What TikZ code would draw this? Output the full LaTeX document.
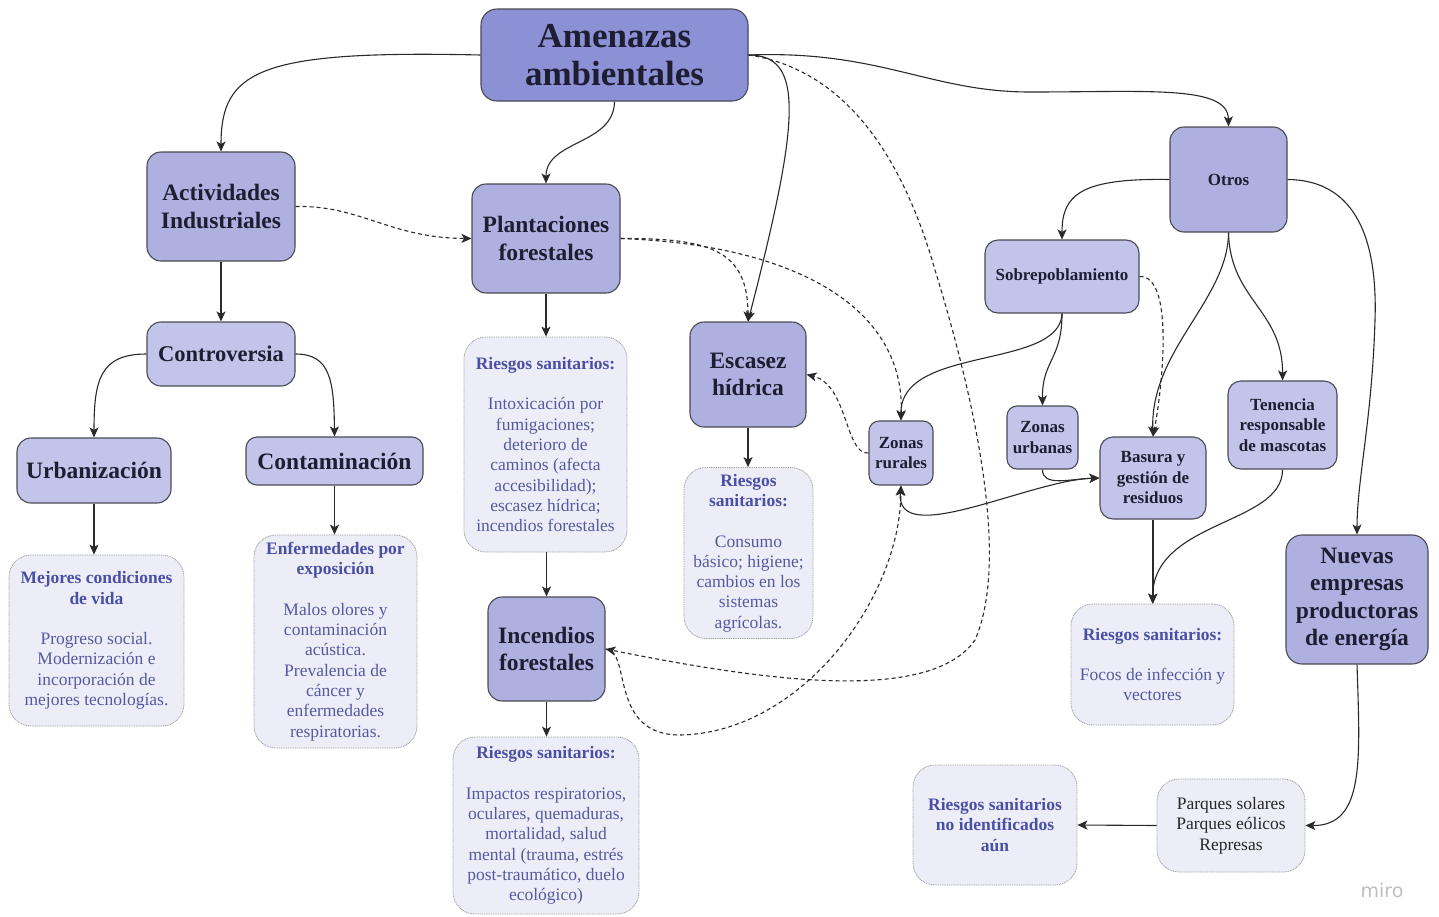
\documentclass[tikz,border=0pt]{standalone}
\usepackage{fontspec}
\setmainfont{LiberationSerif}[Extension=.ttf, UprightFont=*-Regular, BoldFont=*-Bold,
  ItalicFont=*-Italic, BoldItalicFont=*-BoldItalic]
\newfontfamily\mirofont{DejaVu Sans}
\usetikzlibrary{arrows.meta}

\definecolor{amenfill}{HTML}{8C90D4}
\definecolor{mainfill}{HTML}{AEB1E0}
\definecolor{subfill}{HTML}{C2C4EA}
\definecolor{leaffill}{HTML}{EDEDF8}
\definecolor{boxline}{HTML}{4A4A55}
\definecolor{boxtext}{HTML}{1E1E33}
\definecolor{leaftitle}{HTML}{4A4FA6}
\definecolor{leafbody}{HTML}{555AA0}
\definecolor{wire}{HTML}{2A2A2A}

% bold blue heading line inside a leaf box
\newcommand\rtitle[1]{{\bfseries\color{leaftitle}#1}}

\begin{document}
\begin{tikzpicture}[x=1pt,y=-1pt,
  box/.style={draw=boxline, line width=1.1pt, rounded corners=14pt, align=center,
              inner sep=0pt, text=boxtext},
  big/.style={box, fill=mainfill, font=\rmfamily\bfseries\fontsize{23.5}{27.5}\selectfont},
  small/.style={box, fill=subfill, font=\rmfamily\bfseries\fontsize{17}{20.5}\selectfont, rounded corners=11pt},
  leaf/.style={draw=gray!75, fill=leaffill, line width=0.8pt, dash pattern=on 1pt off 0.8pt,
               rounded corners=22pt, align=center, inner sep=0pt, text=leafbody,
               font=\rmfamily\fontsize{17.5}{20.3}\selectfont},
  arr/.style={draw=wire, line width=1.1pt, -{Stealth[length=10pt,width=9pt,inset=2.5pt]}},
  darr/.style={arr, dash pattern=on 4pt off 3pt},
]
\useasboundingbox[fill=white] (0,0) rectangle (1439,916);

% ---- top node
\node[box, fill=amenfill, minimum width=267pt, minimum height=92pt, rounded corners=16pt,
      font=\rmfamily\bfseries\fontsize{35}{38}\selectfont] (amen) at (614.5,55) {Amenazas\\ambientales};

% ---- left branch
\node[big, minimum width=148pt, minimum height=109pt] (act) at (221,206.5) {Actividades\\Industriales};
\node[big, fill=subfill, minimum width=148pt, minimum height=64pt, font=\rmfamily\bfseries\fontsize{22.5}{27}\selectfont] (cont) at (221,354) {Controversia};
\node[big, fill=subfill, minimum width=154pt, minimum height=65pt] (urb) at (94,470.5) {Urbanización};
\node[big, fill=subfill, minimum width=177pt, minimum height=48pt, rounded corners=11pt] (contam) at (334.5,461) {Contaminación};
\node[leaf, minimum width=175pt, minimum height=171pt] (mej) at (96.5,640.5)
  {\rtitle{Mejores condiciones}\\\rtitle{de vida}\\[20.3pt]Progreso social.\\Modernización e\\incorporación de\\mejores tecnologías.};
\node[leaf, minimum width=163pt, minimum height=213pt] (enf) at (335.5,641.5)
  {\rtitle{Enfermedades por}\\\rtitle{exposición}\\[20.3pt]Malos olores y\\contaminación\\acústica.\\Prevalencia de\\cáncer y\\enfermedades\\respiratorias.};

% ---- plantations and fires
\node[big, minimum width=148pt, minimum height=109pt] (plant) at (546,238.5) {Plantaciones\\forestales};
\node[leaf, minimum width=163pt, minimum height=215pt] (rplant) at (545.5,444.5)
  {\rtitle{Riesgos sanitarios:}\\[20.3pt]Intoxicación por\\fumigaciones;\\deterioro de\\caminos (afecta\\accesibilidad);\\escasez hídrica;\\incendios forestales};
\node[big, minimum width=117pt, minimum height=104pt] (inc) at (546.5,649) {Incendios\\forestales};
\node[leaf, minimum width=186pt, minimum height=177pt] (rinc) at (546,825.5)
  {\rtitle{Riesgos sanitarios:}\\[20.3pt]Impactos respiratorios,\\oculares, quemaduras,\\mortalidad, salud\\mental (trauma, estrés\\post-traumático, duelo\\ecológico)};

% ---- water scarcity
\node[big, minimum width=116pt, minimum height=105pt] (esc) at (748,374.5) {Escasez\\hídrica};
\node[leaf, minimum width=129pt, minimum height=171pt] (resc) at (748.5,553)
  {\rtitle{Riesgos}\\\rtitle{sanitarios:}\\[20.3pt]Consumo\\básico; higiene;\\cambios en los\\sistemas\\agrícolas.};

% ---- others branch
\node[small, fill=mainfill, minimum width=117pt, minimum height=105pt, rounded corners=14pt] (otros) at (1228.5,179.5) {Otros};
\node[small, minimum width=154pt, minimum height=73pt, rounded corners=13pt] (sob) at (1062,276.5) {Sobrepoblamiento};
\node[small, minimum width=64pt, minimum height=64pt, rounded corners=10pt] (zr) at (901,453) {Zonas\\rurales};
\node[small, minimum width=71pt, minimum height=63pt, rounded corners=10pt] (zu) at (1042.5,437.5) {Zonas\\urbanas};
\node[small, minimum width=106pt, minimum height=82pt, rounded corners=13pt] (bas) at (1153,478) {Basura y\\gestión de\\residuos};
\node[small, minimum width=109pt, minimum height=88pt, rounded corners=13pt] (ten) at (1282.5,425) {Tenencia\\responsable\\de mascotas};
\node[big, minimum width=142pt, minimum height=129pt, rounded corners=16pt] (nue) at (1357,599.5) {Nuevas\\empresas\\productoras\\de energía};
\node[leaf, minimum width=163pt, minimum height=121pt] (rbas) at (1152.5,664.5)
  {\rtitle{Riesgos sanitarios:}\\[20.3pt]Focos de infección y\\vectores};
\node[leaf, minimum width=148pt, minimum height=93pt, text=black!85] (parq) at (1231,825.5)
  {Parques solares\\Parques eólicos\\Represas};
\node[leaf, minimum width=164pt, minimum height=120pt] (rnoid) at (995,825)
  {\rtitle{Riesgos sanitarios}\\\rtitle{no identificados}\\\rtitle{aún}};

\node[text=gray!50, font=\mirofont\fontsize{19}{19}\selectfont] (miro) at (1382,890) {miro};

% ---- solid connectors
\draw[arr] (amen.west) .. controls (260,50) and (221,70) .. (act.north);
\draw[arr] (amen.south) .. controls (614,145) and (546,140) .. (plant.north);
\draw[arr] (amen.east) .. controls (880,50) and (930,92) .. (1030,92)
                        .. controls (1150,92) and (1228,85) .. (otros.north);
\draw[arr] (amen.east) .. controls (805,55) and (800,120) .. (esc.north);

\draw[arr] (act.south) -- (cont.north);
\draw[arr] (cont.west) .. controls (100,354) and (94,380) .. (urb.north);
\draw[arr] (cont.east) .. controls (330,354) and (334,380) .. (contam.north);
\draw[arr] (urb.south) -- (urb.south |- mej.north);
\draw[arr] (contam.south) -- (contam.south |- enf.north);

\draw[arr] (plant.south) -- (plant.south |- rplant.north);
\draw[arr] (rplant.south) -- (rplant.south -| inc.north) -- (inc.north);
\draw[arr] (inc.south) -- (inc.south |- rinc.north);
\draw[arr] (esc.south) -- (esc.south |- resc.north);

\draw[arr] (otros.west) .. controls (1080,178) and (1062,195) .. (sob.north);
\draw[arr] (otros.south) .. controls (1228,300) and (1150,350) .. (bas.north);
\draw[arr] (otros.south) .. controls (1230,300) and (1283,310) .. (ten.north);
\draw[arr] (otros.east) .. controls (1350,180) and (1378,230) .. (1375,320)
                         .. controls (1372,420) and (1357,480) .. (nue.north);

\draw[arr] (sob.south) .. controls (1060,370) and (900,345) .. (zr.north);
\draw[arr] (sob.south) .. controls (1062,360) and (1042,360) .. (zu.north);
\draw[arr] (zu.south) .. controls (1042,487) and (1070,479) .. (bas.west);
\draw[arr, {Stealth[length=10pt,width=9pt,inset=2.5pt]}-{Stealth[length=10pt,width=9pt,inset=2.5pt]}]
  (zr.south) .. controls (895,550) and (1030,480) .. (bas.west);

\draw[arr] (bas.south) -- (bas.south |- rbas.north);
\draw[arr] (ten.south) .. controls (1283,525) and (1153,520) .. (rbas.north);
\draw[arr] (nue.south) .. controls (1360,760) and (1365,826) .. (parq.east);
\draw[arr] (parq.west) -- (rnoid.east);

% ---- dashed connectors
\draw[darr] (act.east) .. controls (360,205) and (390,238) .. (plant.west);
\draw[darr] (plant.east) .. controls (710,238) and (748,250) .. (esc.north);
\draw[darr] (plant.east) .. controls (800,245) and (905,310) .. (zr.north);
\draw[darr] (zr.west) .. controls (845,455) and (848,385) .. (esc.east);
\draw[darr] (inc.east) .. controls (632,650) and (608,735) .. (680,735)
                       .. controls (800,733) and (900,600) .. (zr.south);
\draw[darr] (amen.east) .. controls (850,70) and (905,165) .. (935,270)
                        .. controls (975,400) and (1010,560) .. (975,640)
                        .. controls (930,705) and (760,680) .. (inc.east);
\draw[darr] (sob.east) .. controls (1175,275) and (1162,390) .. (bas.north);

\end{tikzpicture}
\end{document}
